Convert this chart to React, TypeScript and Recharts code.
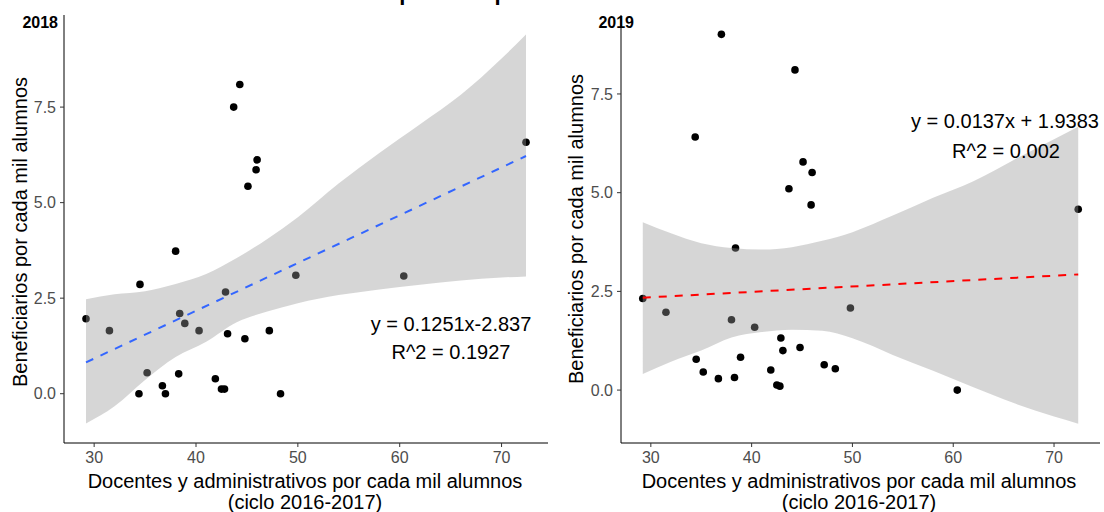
import React from 'react';
import { ComposedChart, Scatter, Line, Area, XAxis, YAxis } from 'recharts';

// docentes y administrativos por cada mil alumnos (ciclo 2016-2017), one value per state
const docentes = [
  29.2, 31.5, 34.4, 34.5, 35.2, 36.7, 37.0, 38.0, 38.3, 38.4, 38.9, 40.3, 41.9, 42.5,
  42.8, 42.9, 43.1, 43.7, 44.3, 44.8, 45.1, 45.9, 46.0, 47.2, 48.3, 49.8, 60.4, 72.4,
];
// beneficiarios por cada mil alumnos
const benef2018 = [
  1.96, 1.65, 0.0, 2.86, 0.55, 0.21, 0.0, 3.73, 0.52, 2.1, 1.84, 1.65, 0.39, 0.12,
  0.12, 2.66, 1.57, 7.5, 8.09, 1.44, 5.43, 5.86, 6.12, 1.65, 0.0, 3.1, 3.08, 6.58,
];
const benef2019 = [
  2.32, 1.97, 6.41, 0.78, 0.46, 0.29, 9.01, 1.78, 0.32, 3.6, 0.83, 1.59, 0.51, 0.13,
  0.1, 1.32, 1.0, 5.1, 8.11, 1.08, 5.78, 4.69, 5.51, 0.64, 0.54, 2.08, 0.0, 4.58,
];

// confidence band of the linear fit
const bandX = [29.2, 32, 35, 38, 41, 44, 47, 50, 54, 58, 62, 66, 70, 72.4];
const lo2018 = [-0.78, -0.33, 0.36, 0.96, 1.36, 1.87, 2.15, 2.37, 2.58, 2.73, 2.85, 2.96, 3.04, 3.07];
const hi2018 = [2.47, 2.6, 2.68, 2.87, 3.13, 3.55, 4.05, 4.62, 5.5, 6.3, 7.05, 7.82, 8.77, 9.4];
const lo2019 = [0.41, 0.72, 1.0, 1.33, 1.47, 1.53, 1.5, 1.31, 0.89, 0.49, 0.07, -0.33, -0.67, -0.85];
const hi2019 = [4.25, 3.97, 3.72, 3.6, 3.56, 3.62, 3.78, 4.0, 4.42, 4.87, 5.29, 5.83, 6.35, 6.67];

// fitted line end points
const fitX = [29.2, 72.4];
const fit2018 = [0.82, 6.22];
const fit2019 = [2.34, 2.93];

const xTicks = [30, 40, 50, 60, 70];
const yTicks = [0, 2.5, 5, 7.5];

const FONT = '"Liberation Sans", Arial, sans-serif';

const Dot = (props: any) => <circle cx={props.cx} cy={props.cy} r={3.8} fill="#000" />;

interface PanelProps {
  left: number;
  width: number;
  rightMargin: number;
  yDomain: [number, number];
  values: number[];
  lo: number[];
  hi: number[];
  fit: number[];
  color: string;
}

const Panel = ({ left, width, rightMargin, yDomain, values, lo, hi, fit, color }: PanelProps) => {
  const points = docentes.map((x, i) => ({ x, y: values[i] }));
  const band = bandX.map((x, i) => ({ x, range: [lo[i], hi[i]] }));
  const line = fitX.map((x, i) => ({ x, y: fit[i] }));
  const tick = { fill: '#4d4d4d', fontSize: 16, fontFamily: FONT };
  return (
    <div style={{ position: 'absolute', left, top: 0 }}>
      <ComposedChart
        width={width}
        height={512}
        margin={{ top: 15, right: rightMargin, bottom: 0, left: 0 }}
      >
        <XAxis
          type="number"
          dataKey="x"
          domain={[27.04, 74.56]}
          ticks={xTicks}
          allowDataOverflow
          height={69}
          axisLine={{ stroke: '#000', strokeWidth: 1 }}
          tickLine={{ stroke: '#333' }}
          tickSize={4}
          tickMargin={5}
          tick={tick}
        />
        <YAxis
          type="number"
          dataKey="y"
          domain={yDomain}
          ticks={yTicks}
          allowDataOverflow
          width={64}
          axisLine={{ stroke: '#000', strokeWidth: 1 }}
          tickLine={{ stroke: '#333' }}
          tickSize={4}
          tickMargin={4}
          tick={tick}
          tickFormatter={(v: number) => v.toFixed(1)}
        />
        <Scatter data={points} shape={Dot} isAnimationActive={false} zIndex={600} />
        <Area
          data={band}
          dataKey="range"
          type="monotone"
          stroke="none"
          fill="#999999"
          fillOpacity={0.4}
          isAnimationActive={false}
          zIndex={650}
        />
        <Line
          data={line}
          dataKey="y"
          type="linear"
          stroke={color}
          strokeWidth={2}
          strokeDasharray="8 8"
          dot={false}
          activeDot={false}
          isAnimationActive={false}
          zIndex={700}
        />
      </ComposedChart>
    </div>
  );
};

export default function App() {
  const yTitle = 'Beneficiarios por cada mil alumnos';
  const xTitle = 'Docentes y administrativos por cada mil alumnos';
  return (
    <div
      style={{
        position: 'absolute',
        left: 0,
        top: 0,
        width: 1104,
        height: 512,
        background: '#fff',
        overflow: 'hidden',
        fontFamily: FONT,
      }}
    >
      <Panel
        left={0}
        width={560}
        rightMargin={12}
        yDomain={[-1.29, 9.91]}
        values={benef2018}
        lo={lo2018}
        hi={hi2018}
        fit={fit2018}
        color="#3366FF"
      />
      <Panel
        left={557}
        width={547}
        rightMargin={4}
        yDomain={[-1.34, 9.5]}
        values={benef2019}
        lo={lo2019}
        hi={hi2019}
        fit={fit2019}
        color="#FF0000"
      />
      <svg
        width={1104}
        height={512}
        style={{ position: 'absolute', left: 0, top: 0, pointerEvents: 'none' }}
        fontFamily={FONT}
      >
        <text x={508} y={0} textAnchor="middle" fontSize={22} fontWeight="bold">
          públicas por escuela
        </text>

        <text x={58} y={28} textAnchor="end" fontSize={16} fontWeight="bold">2018</text>
        <text x={634} y={28} textAnchor="end" fontSize={16} fontWeight="bold">2019</text>

        <text transform="translate(27,232) rotate(-90)" textAnchor="middle" fontSize={20}>{yTitle}</text>
        <text transform="translate(583,229) rotate(-90)" textAnchor="middle" fontSize={20}>{yTitle}</text>

        <text x={305} y={488} textAnchor="middle" fontSize={20}>{xTitle}</text>
        <text x={305} y={509} textAnchor="middle" fontSize={20}>(ciclo 2016-2017)</text>
        <text x={859} y={488} textAnchor="middle" fontSize={20}>{xTitle}</text>
        <text x={859} y={509} textAnchor="middle" fontSize={20}>(ciclo 2016-2017)</text>

        <text x={451} y={331} textAnchor="middle" fontSize={20}>y = 0.1251x-2.837</text>
        <text x={451} y={359} textAnchor="middle" fontSize={20}>R^2 = 0.1927</text>
        <text x={1005} y={128} textAnchor="middle" fontSize={20}>y = 0.0137x + 1.9383</text>
        <text x={1006} y={158} textAnchor="middle" fontSize={20}>R^2 = 0.002</text>
      </svg>
    </div>
  );
}
